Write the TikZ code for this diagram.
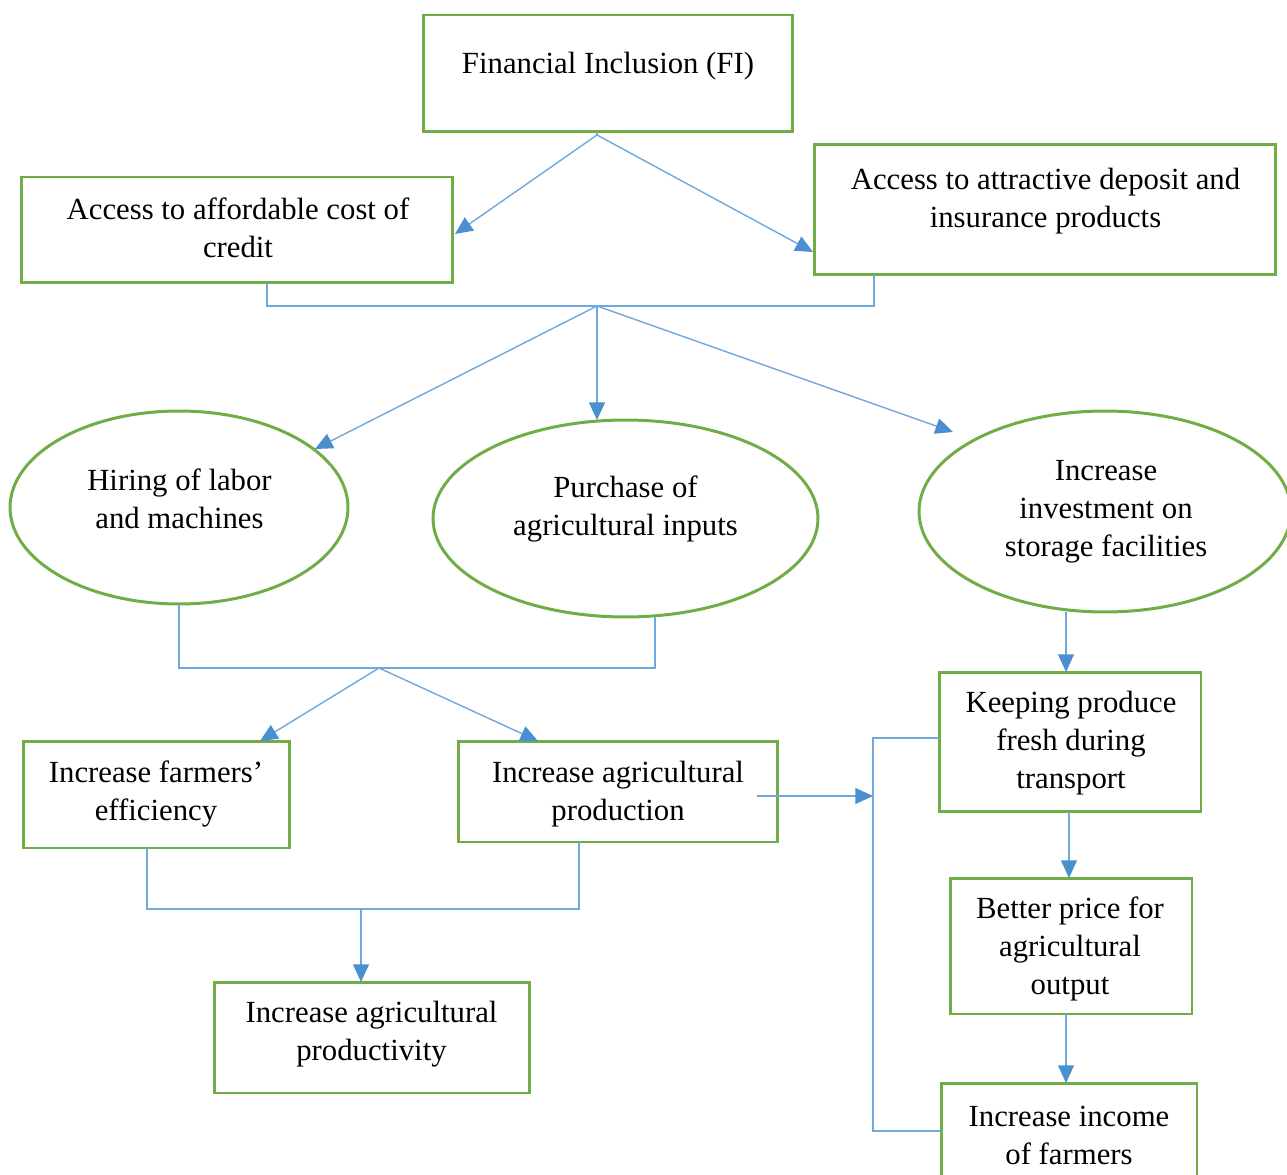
\documentclass[tikz,border=0pt]{standalone}
\usepackage{fontspec}
\setmainfont{Liberation Serif}
\usetikzlibrary{arrows.meta,shapes.geometric}
\definecolor{boxgreen}{HTML}{70AD47}
\definecolor{lineblue}{HTML}{6FA8DC}
\definecolor{tipblue}{HTML}{4A90D0}
\tikzset{
  boxnode/.style={draw=boxgreen, line width=1.7pt, rectangle, inner sep=0pt, outer sep=0pt},
  ellnode/.style={draw=boxgreen, line width=1.7pt, ellipse, inner sep=0pt, outer sep=0pt},
  txt/.style={align=center, font=\fontsize{17.5}{21.6}\selectfont, inner sep=0pt},
  conn/.style={draw=lineblue, line width=0.8pt},
  arr/.style={conn, -{Triangle[length=10pt,width=9pt,fill=tipblue,color=tipblue]}},
}
\begin{document}
\begin{tikzpicture}[x=0.02cm,y=-0.02cm]
\useasboundingbox (0,0) rectangle (1287,1175);
\clip (0,0) rectangle (1287,1175);
% boxes
\node[boxnode, minimum width=7.4cm, minimum height=2.34cm] (fi) at (608,73.5) {};
\node[txt] (fit) at (608,66) {Financial Inclusion (FI)};
\node[boxnode, minimum width=8.64cm, minimum height=2.12cm] (credit) at (237,230) {};
\node[txt] (creditt) at (238,228) {Access to affordable cost of\\credit};
\node[boxnode, minimum width=9.24cm, minimum height=2.62cm] (deposit) at (1045,209.5) {};
\node[txt] (depositt) at (1045.5,201) {Access to attractive deposit and\\insurance products};
\node[ellnode, minimum width=6.76cm, minimum height=3.86cm] (hiring) at (179,507.5) {};
\node[txt] (hiringt) at (179.5,499) {Hiring of labor\\and machines};
\node[ellnode, minimum width=7.7cm, minimum height=3.94cm] (purchase) at (625.5,518.5) {};
\node[txt] (purchaset) at (625.5,509) {Purchase of\\agricultural inputs};
\node[ellnode, minimum width=7.44cm, minimum height=4.02cm] (storage) at (1105,511.5) {};
\node[txt] (storaget) at (1106,512) {Increase\\investment on\\storage facilities};
\node[boxnode, minimum width=5.24cm, minimum height=2.8cm] (keeping) at (1070,742) {};
\node[txt] (keepingt) at (1071,743) {Keeping produce\\fresh during\\transport};
\node[boxnode, minimum width=4.84cm, minimum height=2.72cm] (better) at (1071,946) {};
\node[txt] (bettert) at (1070,949) {Better price for\\agricultural\\output};
\node[boxnode, minimum width=5.12cm, minimum height=2.0cm] (income) at (1069,1133) {};
\node[txt] (incomet) at (1069,1135) {Increase income\\of farmers};
\node[boxnode, minimum width=5.34cm, minimum height=2.14cm] (effic) at (156.5,794.5) {};
\node[txt] (effict) at (156,794) {Increase farmers’\\efficiency};
\node[boxnode, minimum width=6.4cm, minimum height=2.02cm] (prod) at (618,791.5) {};
\node[txt] (prodt) at (618,794) {Increase agricultural\\production};
\node[boxnode, minimum width=6.32cm, minimum height=2.22cm] (produc) at (372,1037.5) {};
\node[txt] (productt) at (371.5,1034) {Increase agricultural\\productivity};
% junction coordinates
\coordinate (j1) at (597,135);
\coordinate (j2) at (597,306);
\coordinate (j3) at (379,668);
\coordinate (j4) at (361,909);
\coordinate (bus) at (873,796);
\coordinate (prodout) at (757,796);
% FI to access boxes
\draw[arr] (j1) -- (455,234);
\draw[arr] (j1) -- (813,252);
\draw[conn] (fi.south -| j1) -- (j1);
% bracket under access boxes
\draw[conn] (credit.south -| 267,0) |- (j2) -| (deposit.south -| 874,0);
\draw[arr] (j2) -- (315,449);
\draw[arr] (j2) -- (purchase.north -| j2);
\draw[arr] (j2) -- (953,432);
% bracket under ellipses
\draw[conn] (hiring.south) |- (j3) -| (purchase.south -| 655,0);
\draw[arr] (j3) -- (260,741);
\draw[arr] (j3) -- (538,741);
% bracket under efficiency / production
\draw[conn] (effic.south -| 147,0) |- (j4) -| (prod.south -| 579,0);
\draw[arr] (j4) -- (produc.north -| j4);
% right column
\draw[arr] (storage.south -| 1066,0) -- (keeping.north -| 1066,0);
\draw[arr] (keeping.south -| 1069,0) -- (better.north -| 1069,0);
\draw[arr] (better.south -| 1066,0) -- (income.north -| 1066,0);
% production to feedback bus
\draw[arr] (prodout) -- (bus);
\draw[conn] (keeping.west |- 0,738) -| (873,738) |- (income.west |- 0,1131);
\end{tikzpicture}
\end{document}
